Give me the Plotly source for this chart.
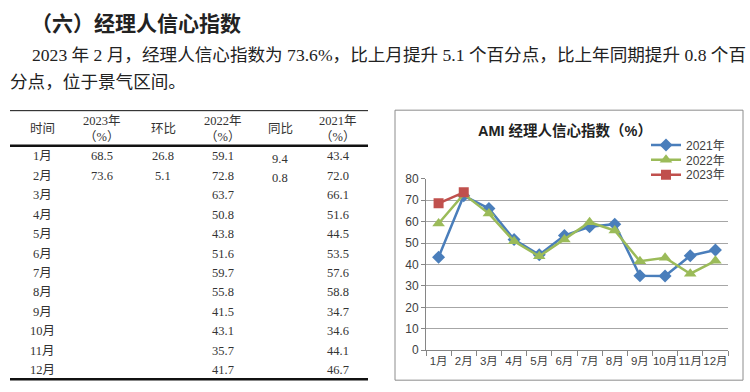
import plotly.graph_objects as go

W, H = 750, 392

# ---------------- data ----------------
months = ["1月", "2月", "3月", "4月", "5月", "6月", "7月", "8月", "9月", "10月", "11月", "12月"]
ami_2021 = [43.4, 72.0, 66.1, 51.6, 44.5, 53.5, 57.6, 58.8, 34.7, 34.6, 44.1, 46.7]
ami_2022 = [59.1, 72.8, 63.7, 50.8, 43.8, 51.6, 59.7, 55.8, 41.5, 43.1, 35.7, 41.7]
ami_2023 = [68.5, 73.6]
mom_2023 = [26.8, 5.1]      # 环比
yoy_2023 = [9.4, 0.8]       # 同比
y_ticks = [0, 10, 20, 30, 40, 50, 60, 70, 80]

heading = "（六）经理人信心指数"
para1 = "2023 年 2 月，经理人信心指数为 73.6%，比上月提升 5.1 个百分点，比上年同期提升 0.8 个百"
para2 = "分点，位于景气区间。"
chart_title = "AMI 经理人信心指数（%）"
table_headers = ["时间", "2023年<br>（%）", "环比", "2022年<br>（%）", "同比", "2021年<br>（%）"]

# ---------------- helpers ----------------
def px(x):
    return x / W

def py(y):
    return 1 - y / H

CJK = "Noto Sans CJK SC"
SERIF = "Liberation Serif, Noto Sans CJK SC"
SANS = "Liberation Sans, Noto Sans CJK SC"
TXT = "#222222"

fig = go.Figure()

series = [
    ("2021年", ami_2021, "#4a7ebb", "diamond", 10, "legend", 143),
    ("2022年", ami_2022, "#9bbb59", "triangle-up", 11, "legend2", 158.5),
    ("2023年", ami_2023, "#c0504d", "square", 10, "legend3", 174),
]
legend_cfg = {}
for name, vals, col, sym, ms, lg, ly in series:
    fig.add_trace(go.Scatter(
        x=months[:len(vals)], y=vals, name=name, mode="lines+markers",
        line=dict(color=col, width=2.5),
        marker=dict(symbol=sym, size=ms, color=col),
        legend=lg,
    ))
    legend_cfg[lg] = dict(x=px(646), y=py(ly), xanchor="left", yanchor="middle",
                          bgcolor="rgba(0,0,0,0)",
                          font=dict(family=SANS, size=12, color="#404040"))

annotations = []
shapes = []

# heading & paragraph
annotations.append(dict(text="<b>" + heading + "</b>", x=px(29), y=py(16), xref="paper", yref="paper",
                        xanchor="left", yanchor="middle", showarrow=False,
                        font=dict(family=CJK, size=21, color=TXT)))
annotations.append(dict(text=para1, x=px(30), y=py(50), xref="paper", yref="paper",
                        xanchor="left", yanchor="middle", showarrow=False,
                        font=dict(family=SERIF, size=17.6, color=TXT)))
annotations.append(dict(text=para2, x=px(8), y=py(78), xref="paper", yref="paper",
                        xanchor="left", yanchor="middle", showarrow=False,
                        font=dict(family=SERIF, size=17.6, color=TXT)))

# ---------------- table ----------------
col_x = [42, 102, 163, 223, 280, 338]
tfont = dict(family=SERIF, size=12.5, color="#333333")
for cx, htxt in zip(col_x, table_headers):
    annotations.append(dict(text=htxt, x=px(cx), y=py(126.5), xref="paper", yref="paper",
                            xanchor="center", yanchor="middle", showarrow=False, font=tfont))

row0, rstep = 155, 20.15
for i, m in enumerate(months):
    yy = row0 + rstep * i
    cells = [m,
             f"{ami_2023[i]:.1f}" if i < len(ami_2023) else "",
             f"{mom_2023[i]:.1f}" if i < len(mom_2023) else "",
             f"{ami_2022[i]:.1f}",
             f"{yoy_2023[i]:.1f}" if i < len(yoy_2023) else "",
             f"{ami_2021[i]:.1f}"]
    for j, (cx, t) in enumerate(zip(col_x, cells)):
        if not t:
            continue
        dy = 2.5 if j == 4 else 0
        annotations.append(dict(text=t, x=px(cx), y=py(yy + dy), xref="paper", yref="paper",
                                xanchor="center", yanchor="middle", showarrow=False, font=tfont))

for yy, lw in [(107.5, 1), (144, 2.5), (386, 2.5)]:
    shapes.append(dict(type="line", xref="paper", yref="paper", x0=px(10), x1=px(368),
                       y0=py(yy), y1=py(yy), line=dict(color="#111111", width=lw)))

# chart border
shapes.append(dict(type="rect", xref="paper", yref="paper", x0=px(395), x1=px(743),
                   y0=py(387), y1=py(107), line=dict(color="#8c8c8c", width=1), layer="below"))
# legend background patch hiding the top gridline behind the legend
shapes.append(dict(type="rect", xref="paper", yref="paper", x0=px(655), x1=px(721),
                   y0=py(183), y1=py(168), line=dict(width=0), fillcolor="white", layer="between"))

axis_font = dict(family=SANS, size=12, color="#404040")
fig.update_layout(
    width=W, height=H,
    margin=dict(l=0, r=0, t=0, b=0),
    paper_bgcolor="white", plot_bgcolor="white",
    title=dict(text="<b>" + chart_title + "</b>", x=px(565), y=py(128), xref="paper", yref="paper",
               xanchor="center", yanchor="middle", font=dict(family=SANS, size=14.5, color="#222222")),
    xaxis=dict(domain=[px(426), px(728)], type="category", categoryorder="array", categoryarray=months,
               range=[-0.5, 11.5], showline=True, linecolor="#868686", linewidth=1,
               ticks="outside", tickson="boundaries", ticklen=5, tickcolor="#868686",
               showgrid=False, tickangle=0, tickfont=dict(family=SANS, size=11.5, color="#404040"),
               fixedrange=True),
    yaxis=dict(domain=[py(356), py(178)], range=[0, 80], tickvals=y_ticks,
               showline=True, linecolor="#868686", linewidth=1,
               ticks="outside", ticklen=4, tickcolor="#868686",
               showgrid=True, gridcolor="#a6a6a6", gridwidth=1, zeroline=False,
               tickfont=axis_font, fixedrange=True),
    annotations=annotations,
    shapes=shapes,
    showlegend=True,
    **legend_cfg,
)

fig.write_html("out.html", config={"displayModeBar": False},
               post_script="document.body.style.margin='0';document.body.style.padding='0';")
